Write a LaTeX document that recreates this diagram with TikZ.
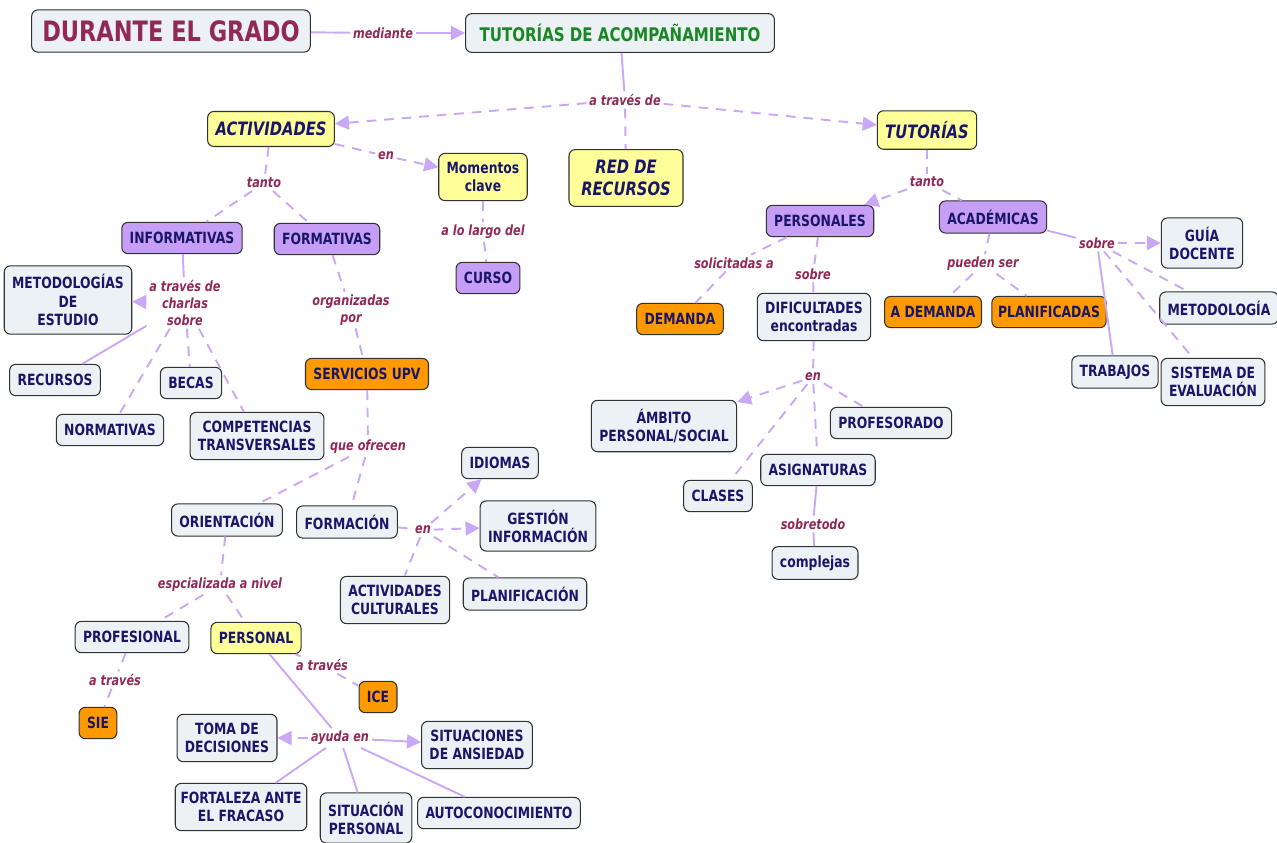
\documentclass[tikz,border=0pt]{standalone}
\usepackage{fontspec}
\setmainfont{DejaVu Sans}[FakeStretch=0.8]
\usetikzlibrary{positioning,arrows.meta}
\definecolor{fondo}{RGB}{236,241,246}
\definecolor{amarillo}{RGB}{255,255,153}
\definecolor{lila}{RGB}{199,158,246}
\definecolor{naranja}{RGB}{255,153,0}
\definecolor{azul}{RGB}{25,22,105}
\definecolor{granate}{RGB}{145,40,85}
\definecolor{verde}{RGB}{25,135,35}
\definecolor{lineac}{RGB}{202,168,248}
\definecolor{borde}{RGB}{50,50,50}

\begin{document}
\begin{tikzpicture}
[x=0.02cm,y=-0.02cm,
  concepto/.style={draw=borde,line width=0.6pt,rounded corners=3.5pt,fill=fondo,text=azul,
    font=\bfseries\fontsize{8.8}{10.3}\selectfont,align=center,inner xsep=4.5pt,inner ysep=5pt,
    minimum height=17.8pt},
  cam/.style={concepto,fill=amarillo}, clila/.style={concepto,fill=lila},
  cnar/.style={concepto,fill=naranja},
  grande/.style={font=\bfseries\itshape\fontsize{10.5}{12.5}\selectfont,inner ysep=6pt},
  enlace/.style={text=granate,font=\bfseries\itshape\fontsize{8}{9.7}\selectfont,
    align=center,inner sep=1.5pt},
  linea/.style={draw=lineac,line width=1.1pt},
  dlinea/.style={linea,dash pattern=on 5.5pt off 4.5pt},
  flecha/.style={-{Triangle[length=8pt,width=8pt]}}]
\useasboundingbox (0,0) rectangle (1277,842);
\node[concepto,text=granate,font=\bfseries\fontsize{16}{18}\selectfont,inner xsep=6pt,
  minimum height=24pt] (durante) at (171,31) {DURANTE EL GRADO};
\node[concepto,text=verde,font=\bfseries\fontsize{10.7}{12}\selectfont,inner xsep=8pt,
  minimum height=22pt] (acomp) at (620,33) {TUTORÍAS DE ACOMPAÑAMIENTO};
\node[cam,grande] (actividades) at (271,129) {ACTIVIDADES};
\node[cam] (momentos) at (483,177) {Momentos\\clave};
\node[cam,grande,inner xsep=7pt] (red) at (626,178) {RED DE\\RECURSOS};
\node[cam,grande] (tutorias) at (927,130) {TUTORÍAS};
\node[clila] (informativas) at (182,238) {INFORMATIVAS};
\node[clila] (formativas) at (327,239) {FORMATIVAS};
\node[clila] (curso) at (488,278) {CURSO};
\node[concepto] (metodologias) at (68,300) {METODOLOGÍAS\\DE\\ESTUDIO};
\node[concepto] (recursos) at (55,380) {RECURSOS};
\node[concepto] (becas) at (191,383) {BECAS};
\node[concepto] (normativas) at (110,430) {NORMATIVAS};
\node[concepto] (competencias) at (257,436) {COMPETENCIAS\\TRANSVERSALES};
\node[cnar] (servicios) at (367,374) {SERVICIOS UPV};
\node[concepto] (orientacion) at (227,520) {ORIENTACIÓN};
\node[concepto] (formacion) at (347,522) {FORMACIÓN};
\node[concepto] (idiomas) at (500,463) {IDIOMAS};
\node[concepto] (gestion) at (538,526) {GESTIÓN\\INFORMACIÓN};
\node[concepto] (planificacion) at (525,594) {PLANIFICACIÓN};
\node[concepto] (actcult) at (395,600) {ACTIVIDADES\\CULTURALES};
\node[concepto] (profesional) at (132,637) {PROFESIONAL};
\node[cam] (personal) at (256,638) {PERSONAL};
\node[cnar] (sie) at (98,723) {SIE};
\node[cnar] (ice) at (378,697) {ICE};
\node[concepto] (toma) at (227,738) {TOMA DE\\DECISIONES};
\node[concepto] (situaciones) at (477,745) {SITUACIONES\\DE ANSIEDAD};
\node[concepto,inner xsep=3pt] (fortaleza) at (241,807) {FORTALEZA ANTE\\EL FRACASO};
\node[concepto] (sitpers) at (366,818) {SITUACIÓN\\PERSONAL};
\node[concepto] (autocon) at (499,813) {AUTOCONOCIMIENTO};
\node[clila] (personales) at (820,221) {PERSONALES};
\node[clila] (academicas) at (993,217) {ACADÉMICAS};
\node[cnar] (demanda) at (680,319) {DEMANDA};
\node[concepto] (dificultades) at (814,317) {DIFICULTADES\\encontradas};
\node[concepto] (ambito) at (664,426) {ÁMBITO\\PERSONAL/SOCIAL};
\node[concepto] (profesorado) at (891,423) {PROFESORADO};
\node[concepto] (asignaturas) at (818,470) {ASIGNATURAS};
\node[concepto] (clases) at (718,496) {CLASES};
\node[concepto] (complejas) at (815,563) {complejas};
\node[cnar,inner xsep=3.5pt] (ademanda) at (933,312) {A DEMANDA};
\node[cnar,inner xsep=3.5pt] (planificadas) at (1049,312) {PLANIFICADAS};
\node[concepto] (guia) at (1202,243) {GUÍA\\DOCENTE};
\node[concepto] (metodologia) at (1219,308) {METODOLOGÍA};
\node[concepto] (trabajos) at (1115,372) {TRABAJOS};
\node[concepto] (sistema) at (1213,382) {SISTEMA DE\\EVALUACIÓN};
\node[enlace] (mediante) at (383,33) {mediante};
\node[enlace] (atraves) at (625,100) {a través de};
\node[enlace] (en1) at (386,156) {en};
\node[enlace] (tanto1) at (264,183) {tanto};
\node[enlace] (largo) at (483,232) {a lo largo del};
\node[enlace] (charlas) at (185,303) {a través de\\charlas\\sobre};
\node[enlace] (organizadas) at (351,310) {organizadas\\por};
\node[enlace] (ofrecen) at (368,447) {que ofrecen};
\node[enlace] (en3) at (423,530) {en};
\node[enlace] (nivel) at (220,585) {espcializada a nivel};
\node[enlace] (atraves2) at (115,680) {a través};
\node[enlace] (atraves3) at (322,665) {a través};
\node[enlace] (ayuda) at (340,738) {ayuda en};
\node[enlace] (tanto2) at (927,182) {tanto};
\node[enlace] (solicitadas) at (734,263) {solicitadas a};
\node[enlace] (sobre1) at (813,274) {sobre};
\node[enlace] (en2) at (813,377) {en};
\node[enlace] (sobretodo) at (813,524) {sobretodo};
\node[enlace] (pueden) at (983,264) {pueden ser};
\node[enlace] (sobre2) at (1097,243) {sobre};
\draw[linea] (durante) -- (mediante); \draw[linea,flecha] (mediante) -- (acomp);
\draw[linea] (acomp) -- (atraves);
\draw[dlinea,flecha] (atraves) -- (actividades); \draw[dlinea,flecha] (atraves) -- (tutorias);
\draw[dlinea] (atraves) -- (red);
\draw[dlinea] (actividades) -- (en1); \draw[dlinea,flecha] (en1) -- (momentos);
\draw[dlinea] (actividades) -- (tanto1) -- (informativas); \draw[dlinea] (tanto1) -- (formativas);
\draw[dlinea] (momentos) -- (largo) -- (curso);
\draw[linea] (informativas) -- (charlas); \draw[linea,flecha] (charlas) -- (metodologias);
\draw[linea] (charlas) -- (recursos); \draw[dlinea] (charlas) -- (normativas);
\draw[dlinea] (charlas) -- (becas); \draw[dlinea] (charlas) -- (competencias);
\draw[dlinea] (formativas) -- (organizadas) -- (servicios);
\draw[dlinea] (servicios) -- (ofrecen) -- (orientacion); \draw[dlinea] (ofrecen) -- (formacion);
\draw[dlinea] (formacion) -- (en3); \draw[dlinea,flecha] (en3) -- (idiomas);
\draw[dlinea,flecha] (en3) -- (gestion); \draw[dlinea] (en3) -- (planificacion);
\draw[dlinea] (en3) -- (actcult);
\draw[dlinea] (orientacion) -- (nivel) -- (profesional); \draw[dlinea] (nivel) -- (personal);
\draw[dlinea] (profesional) -- (atraves2) -- (sie);
\draw[dlinea] (personal) -- (atraves3) -- (ice);
\draw[linea] (personal) -- (ayuda); \draw[dlinea,flecha] (ayuda) -- (toma);
\draw[linea,flecha] (ayuda) -- (situaciones); \draw[linea] (ayuda) -- (fortaleza);
\draw[linea] (ayuda) -- (sitpers); \draw[linea] (ayuda) -- (autocon);
\draw[dlinea] (tutorias) -- (tanto2); \draw[dlinea,flecha] (tanto2) -- (personales);
\draw[dlinea] (tanto2) -- (academicas);
\draw[dlinea] (personales) -- (solicitadas) -- (demanda);
\draw[dlinea] (personales) -- (sobre1) -- (dificultades);
\draw[dlinea] (dificultades) -- (en2); \draw[dlinea,flecha] (en2) -- (ambito);
\draw[dlinea] (en2) -- (profesorado); \draw[dlinea] (en2) -- (asignaturas);
\draw[dlinea] (en2) -- (clases);
\draw[linea] (asignaturas) -- (sobretodo) -- (complejas);
\draw[dlinea] (academicas) -- (pueden) -- (ademanda); \draw[dlinea] (pueden) -- (planificadas);
\draw[linea] (academicas) -- (sobre2); \draw[dlinea,flecha] (sobre2) -- (guia);
\draw[dlinea] (sobre2) -- (metodologia); \draw[dlinea] (sobre2) -- (sistema);
\draw[linea] (sobre2) -- (trabajos);
\end{tikzpicture}
\end{document}
